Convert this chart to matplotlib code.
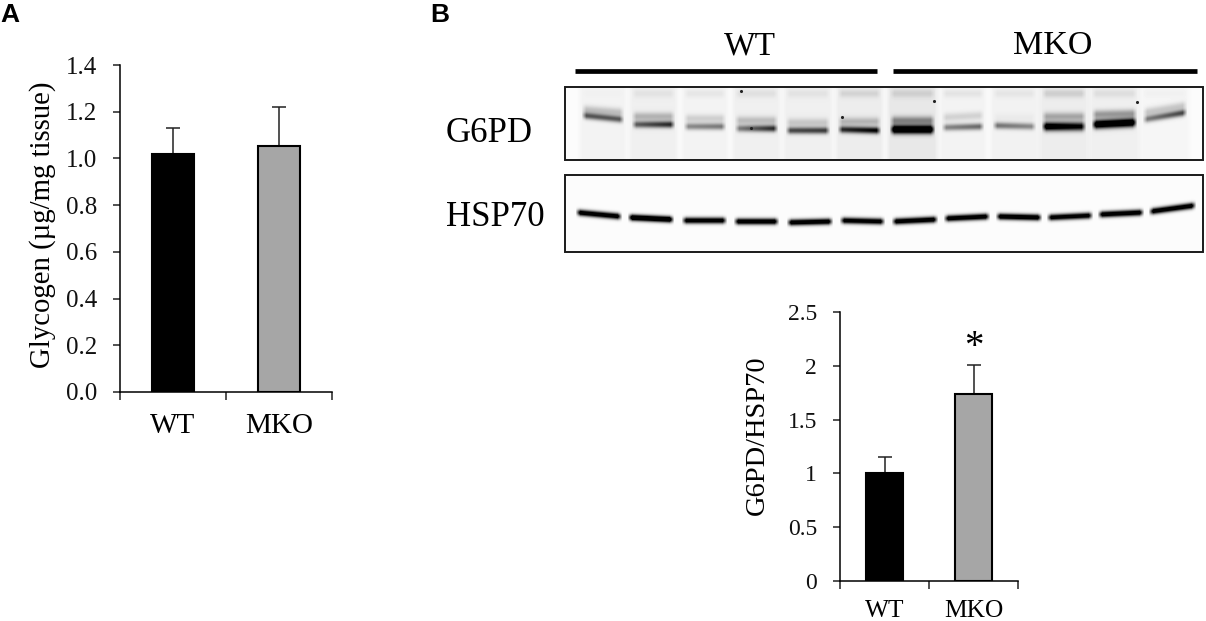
import numpy as np
import matplotlib
matplotlib.use('Agg')
import matplotlib.pyplot as plt
from matplotlib.patches import Rectangle

plt.rcParams['font.family'] = ['Liberation Serif', 'DejaVu Serif']

W, H = 1206, 621
GREY = '#a6a6a6'

groups = ['WT', 'MKO']

# panel A
glycogen = [1.02, 1.055]
glycogen_top = [1.13, 1.22]
glycogen_ticks = ['0.0', '0.2', '0.4', '0.6', '0.8', '1.0', '1.2', '1.4']

# panel B
ratio = [1.0, 1.74]
ratio_top = [1.15, 2.01]
ratio_ticks = ['0', '0.5', '1', '1.5', '2', '2.5']

# blot lanes, in picture pixels
g6pd_left = [583, 633, 685, 736, 787, 839, 891, 943, 994, 1043, 1093, 1144]
g6pd_right = [622, 673, 724, 776, 828, 879, 933, 982, 1034, 1084, 1135, 1185]
g6pd_y0 = [115, 124, 126, 128, 130, 129, 129, 127, 125, 126, 124, 119]
g6pd_y1 = [119, 124, 126, 128, 130, 130, 129, 126, 126, 126, 122, 112]
g6pd_ink0 = [.6, .55, .4, .42, .65, .75, 1.3, .42, .5, 1.2, 1.3, .45]
g6pd_ink1 = [.6, .8, .48, .8, .7, .95, 1.3, .55, .4, .95, 1.3, .7]
upper_y0 = [109, 116, 118, 120, 122, 121, 120, 117, 117, 116, 114, 112]
upper_y1 = [112, 116, 118, 120, 122, 121, 120, 115, 117, 116, 113, 105]
upper_ink = [.2, .24, .14, .2, .16, .22, .4, .13, .03, .28, .34, .18]
lane_bg = [.035, .05, .035, .05, .05, .06, .08, .035, .04, .06, .05, .025]
smear_ink = [.01, .05, .05, .06, .05, .1, .1, .06, .05, .12, .07, .02]

hsp_left = [577, 629, 683, 735, 788, 841, 893, 945, 997, 1048, 1099, 1150]
hsp_right = [620, 672, 725, 777, 831, 883, 936, 988, 1040, 1091, 1142, 1194]
hsp_y0 = [212, 217, 220, 221, 222, 220, 221, 218, 216, 217, 214, 211]
hsp_y1 = [216, 219, 220, 221, 221, 221, 219, 216, 217, 215, 212, 205]
hsp_ink = [1.2, 1.4, 1.15, 1.2, 1.2, 1.15, 1.2, 1.2, 1.25, 1.15, 1.2, 1.2]

speck_x = [741, 842, 751, 1137, 934]
speck_y = [91, 117, 128, 102, 101]


def add_band(ink, top, x0, x1, y0, y1, s0, s1, sigma):
    yy, xx = np.mgrid[0:ink.shape[0], 0:ink.shape[1]]
    xx = xx + 565
    yy = yy + top
    t = (xx - x0) / (x1 - x0)
    centre = y0 + (y1 - y0) * t
    strength = s0 + (s1 - s0) * t
    edge = np.clip((xx - x0 + 2) / 5, 0, 1) * np.clip((x1 - xx + 2) / 5, 0, 1)
    ink += strength * edge * np.exp(-0.5 * ((yy - centre) / sigma) ** 2)


def add_lane(ink, x0, x1, level):
    xx = np.arange(ink.shape[1]) + 565
    edge = np.clip((xx - x0 + 7) / 6, 0, 1) * np.clip((x1 - xx + 7) / 6, 0, 1)
    ink += level * edge


def bar_panel(left, right, top, bottom, ymax, values, tops, ticks, width, tick_fs, fs, xpad):
    ax = fig.add_axes([left / W, 1 - bottom / H, (right - left) / W, (bottom - top) / H])
    x = [0.5, 1.5]
    ax.bar(x, values, width, color=['black', GREY], edgecolor='black', linewidth=1.5, zorder=3)
    err = [v1 - v0 for v0, v1 in zip(values, tops)]
    ax.errorbar(x, values, yerr=[[0, 0], err], fmt='none', ecolor='#222222', elinewidth=1.1,
                capsize=5, capthick=1.1, zorder=2)
    ax.set_xlim(0, 2)
    ax.set_ylim(0, ymax)
    ax.set_yticks(np.linspace(0, ymax, len(ticks)))
    ax.set_yticklabels(ticks, fontsize=tick_fs)
    ax.set_xticks([0, 1, 2])
    ax.set_xticklabels([])
    ax.set_xticks(x, groups, minor=True, fontsize=fs)
    ax.tick_params(axis='x', which='minor', length=0, pad=xpad)
    ax.tick_params(axis='x', which='major', length=6, width=1.1, color='#222222')
    ax.tick_params(axis='y', length=5, width=1.1, color='#222222', pad=11.5, labelcolor='#111111')
    for s in ['top', 'right']:
        ax.spines[s].set_visible(False)
    for s in ['left', 'bottom']:
        ax.spines[s].set_linewidth(1.1)
    return ax


fig = plt.figure(figsize=(W / 100, H / 100), dpi=100)

# blots and the labels around them live on one pixel-scaled axes
bg = fig.add_axes([0, 0, 1, 1])
bg.axis('off')

top1, bot1 = 87, 160
ink = np.zeros((bot1 - top1, 1203 - 565)) + 0.012
for i in range(12):
    add_lane(ink, g6pd_left[i], g6pd_right[i], lane_bg[i])
    add_band(ink, top1, g6pd_left[i], g6pd_right[i], 93, 93, smear_ink[i], smear_ink[i], 3.0)
    add_band(ink, top1, g6pd_left[i], g6pd_right[i], g6pd_y0[i], g6pd_y1[i],
             g6pd_ink0[i], g6pd_ink1[i], 3.0 if g6pd_ink0[i] > 1 else 2.4)
    add_band(ink, top1, g6pd_left[i], g6pd_right[i], upper_y0[i], upper_y1[i],
             upper_ink[i], upper_ink[i], 3.0)
bg.imshow(1 - np.clip(ink, 0, 1), cmap='gray', vmin=0, vmax=1, extent=(565, 1203, bot1, top1),
          aspect='auto', interpolation='bilinear', zorder=1)
bg.scatter(speck_x, speck_y, s=5, color='#222222', linewidths=0, zorder=2)

top2, bot2 = 175, 252
ink = np.zeros((bot2 - top2, 1203 - 565)) + 0.012
for i in range(12):
    add_band(ink, top2, hsp_left[i], hsp_right[i], hsp_y0[i], hsp_y1[i],
             hsp_ink[i], hsp_ink[i], 2.2)
bg.imshow(1 - np.clip(ink, 0, 1), cmap='gray', vmin=0, vmax=1, extent=(565, 1203, bot2, top2),
          aspect='auto', interpolation='bilinear', zorder=1)
bg.set_xlim(0, W)
bg.set_ylim(H, 0)

for t, b in [(top1, bot1), (top2, bot2)]:
    bg.add_patch(Rectangle((565, t), 638, b - t, fill=False, edgecolor='#1a1a1a', linewidth=1.4, zorder=3))

bg.plot([575, 877], [71, 71], color='black', lw=3.4, solid_capstyle='butt')
bg.plot([893, 1197], [71, 71], color='black', lw=3.4, solid_capstyle='butt')
bg.text(750, 46, 'WT', fontsize=24, ha='center', va='center')
bg.text(1053, 46, 'MKO', fontsize=24.5, ha='center', va='center')
bg.text(489, 133, 'G6PD', fontsize=25, ha='center', va='center')
bg.text(495, 217, 'HSP70', fontsize=25, ha='center', va='center')
bg.text(0, 15, 'A', fontsize=19, fontweight='bold', family=['Liberation Sans'], ha='left', va='center')
bg.text(430, 15, 'B', fontsize=19, fontweight='bold', family=['Liberation Sans'], ha='left', va='center')

ax_a = bar_panel(120, 332, 65, 392, 1.4, glycogen, glycogen_top, glycogen_ticks, 0.405, 18, 21, 15)
ax_a.set_ylabel('Glycogen (µg/mg tissue)', fontsize=20.7, labelpad=7, y=0.51)

ax_b = bar_panel(840, 1018, 312, 581, 2.5, ratio, ratio_top, ratio_ticks, 0.41, 17, 18.3, 14)
ax_b.set_ylabel('G6PD/HSP70', fontsize=20.4, labelpad=13, y=0.543)
ax_b.text(1.5, 2.17, '*', fontsize=28, ha='center', va='center')

fig.savefig('out.png', dpi=100)
